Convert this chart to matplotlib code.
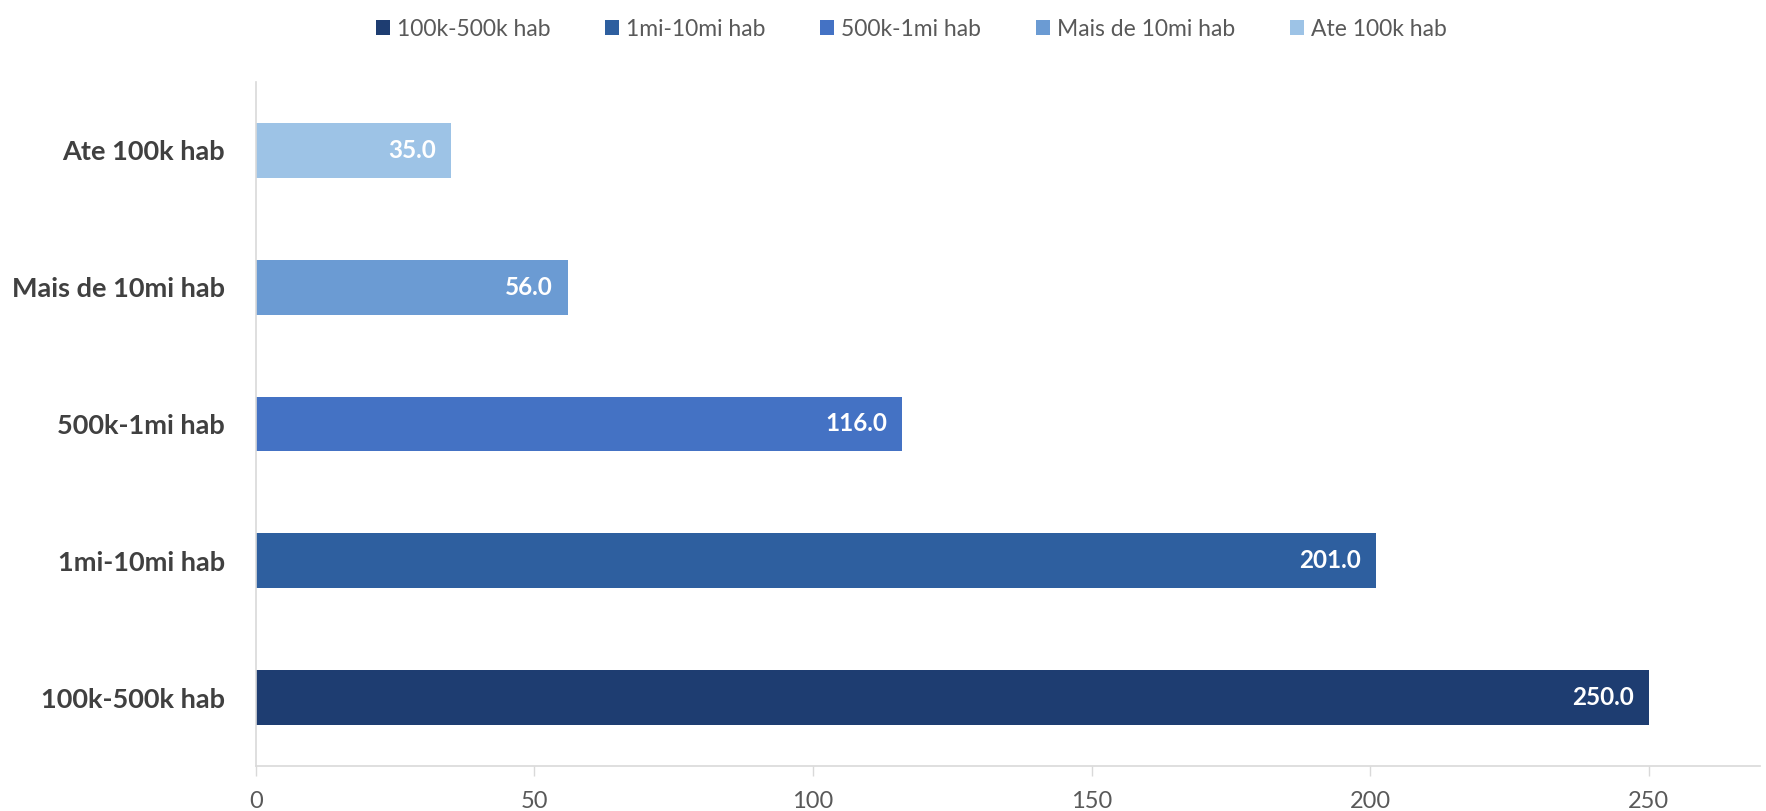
import matplotlib.pyplot as plt

categories = ['100k-500k hab', '1mi-10mi hab', '500k-1mi hab', 'Mais de 10mi hab', 'Ate 100k hab']
values = [250.0, 201.0, 116.0, 56.0, 35.0]
colors = ['#1E3D71', '#2E5F9F', '#4472C4', '#6B9BD3', '#9DC3E6']
x_ticks = [0, 50, 100, 150, 200, 250]

plt.rcParams['font.family'] = ['Lato', 'DejaVu Sans']

fig = plt.figure(figsize=(17.66, 8.11), dpi=100)
ax = fig.add_axes([0.1448, 0.0555, 0.852, 0.8434])

ypos = list(range(len(categories)))
bars = ax.barh(ypos, values, height=0.4, color=colors, label=categories)

for y, v in zip(ypos, values):
    ax.annotate(f'{v:.1f}', xy=(v, y), xytext=(-11, 0), textcoords='offset points',
                ha='right', va='center', color='white', fontsize=17.5, fontweight='bold')

ax.set_xlim(0, 270)
ax.set_ylim(-0.5, 4.5)
ax.set_yticks(ypos)
ax.set_yticklabels(categories, fontsize=19.5, fontweight='bold', color='#404040')
ax.set_xticks(x_ticks)
ax.set_xticklabels([str(t) for t in x_ticks], fontsize=17, color='#595959')
ax.tick_params(axis='y', length=0, pad=22)
ax.tick_params(axis='x', length=7, width=1, color='#D9D9D9', pad=11)

for side in ['top', 'right']:
    ax.spines[side].set_visible(False)
for side in ['left', 'bottom']:
    ax.spines[side].set_color('#D9D9D9')
    ax.spines[side].set_linewidth(1.2)

handles = [bars[i] for i in range(len(categories))]
fig.legend(handles, categories, loc='center', bbox_to_anchor=(0.516, 0.964), ncol=5,
           frameon=False, fontsize=16.5, labelcolor='#595959', handlelength=0.6,
           handleheight=0.6, handletextpad=0.3, columnspacing=2.4)

fig.savefig('out.png', dpi=100)
